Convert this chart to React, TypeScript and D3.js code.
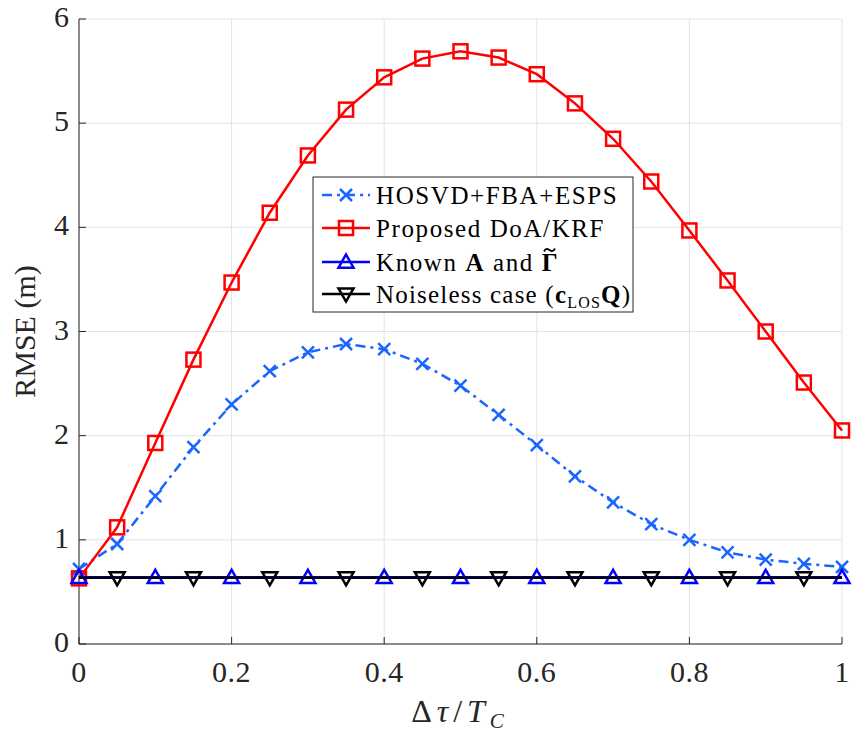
import React, { useLayoutEffect, useRef, useState } from "react";
import * as d3 from "d3";

const xs = [0, 0.05, 0.1, 0.15, 0.2, 0.25, 0.3, 0.35, 0.4, 0.45, 0.5, 0.55, 0.6, 0.65, 0.7, 0.75, 0.8, 0.85, 0.9, 0.95, 1.0];
const hosvd = [0.72, 0.96, 1.42, 1.89, 2.30, 2.62, 2.80, 2.88, 2.83, 2.69, 2.48, 2.20, 1.91, 1.61, 1.36, 1.15, 1.00, 0.88, 0.81, 0.77, 0.74];
const proposed = [0.63, 1.12, 1.93, 2.73, 3.47, 4.14, 4.69, 5.13, 5.44, 5.62, 5.69, 5.63, 5.47, 5.19, 4.85, 4.44, 3.97, 3.49, 3.00, 2.51, 2.05];
const knownA = [0.64, 0.64, 0.64, 0.64, 0.64, 0.64, 0.64, 0.64, 0.64, 0.64, 0.64, 0.64, 0.64, 0.64, 0.64, 0.64, 0.64, 0.64, 0.64, 0.64, 0.64];
const noiseless = [0.635, 0.635, 0.635, 0.635, 0.635, 0.635, 0.635, 0.635, 0.635, 0.635, 0.635, 0.635, 0.635, 0.635, 0.635, 0.635, 0.635, 0.635, 0.635, 0.635, 0.635];
const xTicks = [0, 0.2, 0.4, 0.6, 0.8, 1];
const xTickLabels = ["0", "0.2", "0.4", "0.6", "0.8", "1"];
const yTicks = [0, 1, 2, 3, 4, 5, 6];

const W = 852, H = 737;
const L = 79, R = 842, T = 19, B = 644;
const FONT = "'Liberation Serif', 'DejaVu Serif', serif";

export default function App() {
  const x = d3.scaleLinear().domain([0, 1]).range([L, R]);
  const y = d3.scaleLinear().domain([0, 6]).range([B, T]);
  const line = (vals: number[]) =>
    d3.line<number>().x((_, i) => x(xs[i])).y((v) => y(v))(vals) || "";

  const knownRef = useRef<SVGTextElement>(null);
  const [tilde, setTilde] = useState<{ x: number; y: number; w: number } | null>(null);
  useLayoutEffect(() => {
    const el = knownRef.current;
    if (!el) return;
    try {
      const n = el.getNumberOfChars();
      const ext = el.getExtentOfChar(n - 1);
      setTilde({ x: ext.x, y: ext.y, w: ext.width });
    } catch (e) {
      /* ignore */
    }
  }, []);

  const cross = (cx: number, cy: number, s: number, color: string, key: string) => (
    <path key={key} d={`M${cx - s},${cy - s}L${cx + s},${cy + s}M${cx - s},${cy + s}L${cx + s},${cy - s}`} stroke={color} strokeWidth={2.5} fill="none" />
  );
  const square = (cx: number, cy: number, s: number, color: string, key: string) => (
    <rect key={key} x={cx - s} y={cy - s} width={2 * s} height={2 * s} stroke={color} strokeWidth={2.5} fill="none" />
  );
  const triUp = (cx: number, cy: number, s: number, color: string, key: string) => (
    <path key={key} d={`M${cx},${cy - s}L${cx + s},${cy + s * 0.75}L${cx - s},${cy + s * 0.75}Z`} stroke={color} strokeWidth={2.5} fill="none" />
  );
  const triDown = (cx: number, cy: number, s: number, color: string, key: string) => (
    <path key={key} d={`M${cx},${cy + s}L${cx + s},${cy - s * 0.75}L${cx - s},${cy - s * 0.75}Z`} stroke={color} strokeWidth={2.5} fill="none" />
  );

  const cBlue = "#1a66ff";
  const cRed = "#ff0000";
  const cKnown = "#0000ff";
  const dash = "10,5,3,5";

  const lgX = 313, lgY = 177, lgW = 320, lgH = 135;
  const rows = [195, 228, 262, 294];
  const lgFs = 25;
  const ls = 1.6;

  let tildePath = "";
  if (tilde) {
    const cx = tilde.x + tilde.w / 2 - 1;
    const ty = rows[2] + 9 - 21;
    const hw = 5.5;
    tildePath = `M${cx - hw},${ty + 1.5} C${cx - hw + 2},${ty - 2.5} ${cx - 1.5},${ty - 1} ${cx},${ty} S${cx + hw - 2},${ty + 2.5} ${cx + hw},${ty - 1.5}`;
  }

  return (
    <svg width={W} height={H} style={{ display: "block", position: "absolute", left: 0, top: 0, background: "#fff" }} fontFamily={FONT}>
      <rect x={0} y={0} width={W} height={H} fill="#fff" />
      {/* grid */}
      {xTicks.map((t) => (
        <line key={"gx" + t} x1={x(t)} x2={x(t)} y1={T} y2={B} stroke="#e3e3e3" strokeWidth={1} />
      ))}
      {yTicks.map((t) => (
        <line key={"gy" + t} x1={L} x2={R} y1={y(t)} y2={y(t)} stroke="#e3e3e3" strokeWidth={1} />
      ))}
      {/* axes */}
      <line x1={L} x2={L} y1={T} y2={B} stroke="#262626" strokeWidth={1} />
      <line x1={L} x2={R} y1={B} y2={B} stroke="#262626" strokeWidth={1} />
      {xTicks.map((t, i) => (
        <g key={"xt" + t}>
          <line x1={x(t)} x2={x(t)} y1={B} y2={B - 7} stroke="#262626" />
          <text x={x(t)} y={B + 38} textAnchor="middle" fontSize={30} letterSpacing={0.5} fill="#262626">{xTickLabels[i]}</text>
        </g>
      ))}
      {yTicks.map((t) => (
        <g key={"yt" + t}>
          <line x1={L} x2={L + 7} y1={y(t)} y2={y(t)} stroke="#262626" />
          <text x={L - 10} y={y(t) + 8} textAnchor="end" fontSize={30} fill="#262626">{t}</text>
        </g>
      ))}
      {/* labels */}
      <text x={460} y={722} textAnchor="middle" fontSize={32} letterSpacing={5} fill="#262626">
        Δ<tspan fontStyle="italic">τ</tspan>/<tspan fontStyle="italic">T</tspan><tspan fontStyle="italic" fontSize={21} dy={6}>C</tspan>
      </text>
      <text transform={`translate(35,${(T + B) / 2}) rotate(-90)`} textAnchor="middle" fontSize={30} fill="#262626">RMSE (m)</text>

      {/* series */}
      <path d={line(hosvd)} stroke={cBlue} strokeWidth={2.5} fill="none" strokeDasharray={dash} />
      {hosvd.map((v, i) => cross(x(xs[i]), y(v), 6, cBlue, "h" + i))}
      <path d={line(proposed)} stroke={cRed} strokeWidth={2.5} fill="none" />
      {proposed.map((v, i) => square(x(xs[i]), y(v), 7, cRed, "p" + i))}
      <path d={line(knownA)} stroke={cKnown} strokeWidth={2.5} fill="none" />
      {knownA.map((v, i) => (i % 2 === 0 ? triUp(x(xs[i]), y(v), 7.5, cKnown, "k" + i) : null))}
      <path d={line(noiseless)} stroke="#000" strokeWidth={2.5} fill="none" />
      {noiseless.map((v, i) => (i % 2 === 1 ? triDown(x(xs[i]), y(v), 7.5, "#000", "n" + i) : null))}

      {/* legend */}
      <rect x={lgX} y={lgY} width={lgW} height={lgH} fill="#fff" stroke="#262626" strokeWidth={1} />
      <line x1={322} x2={370} y1={rows[0]} y2={rows[0]} stroke={cBlue} strokeWidth={2.5} strokeDasharray={dash} />
      {cross(346, rows[0], 6, cBlue, "lg0")}
      <line x1={322} x2={370} y1={rows[1]} y2={rows[1]} stroke={cRed} strokeWidth={2.5} />
      {square(346, rows[1], 7, cRed, "lg1")}
      <line x1={322} x2={370} y1={rows[2]} y2={rows[2]} stroke={cKnown} strokeWidth={2.5} />
      {triUp(346, rows[2], 7.5, cKnown, "lg2")}
      <line x1={322} x2={370} y1={rows[3]} y2={rows[3]} stroke="#000" strokeWidth={2.5} />
      {triDown(346, rows[3], 7.5, "#000", "lg3")}
      <text x={376} y={rows[0] + 9} fontSize={lgFs} letterSpacing={ls} fill="#000">HOSVD+FBA+ESPS</text>
      <text x={376} y={rows[1] + 9} fontSize={lgFs} letterSpacing={ls} fill="#000">Proposed DoA/KRF</text>
      <text ref={knownRef} x={376} y={rows[2] + 9} fontSize={lgFs} letterSpacing={ls} fill="#000">
        Known <tspan fontWeight="bold">A</tspan> and <tspan fontWeight="bold">Γ</tspan>
      </text>
      {tildePath && <path d={tildePath} stroke="#000" strokeWidth={1.8} fill="none" />}
      <text x={376} y={rows[3] + 9} fontSize={lgFs} letterSpacing={1.2} fill="#000">
        Noiseless case (<tspan fontWeight="bold">c</tspan><tspan fontSize={16} dy={5}>LOS</tspan><tspan dy={-5} fontWeight="bold">Q</tspan>)
      </text>
    </svg>
  );
}
